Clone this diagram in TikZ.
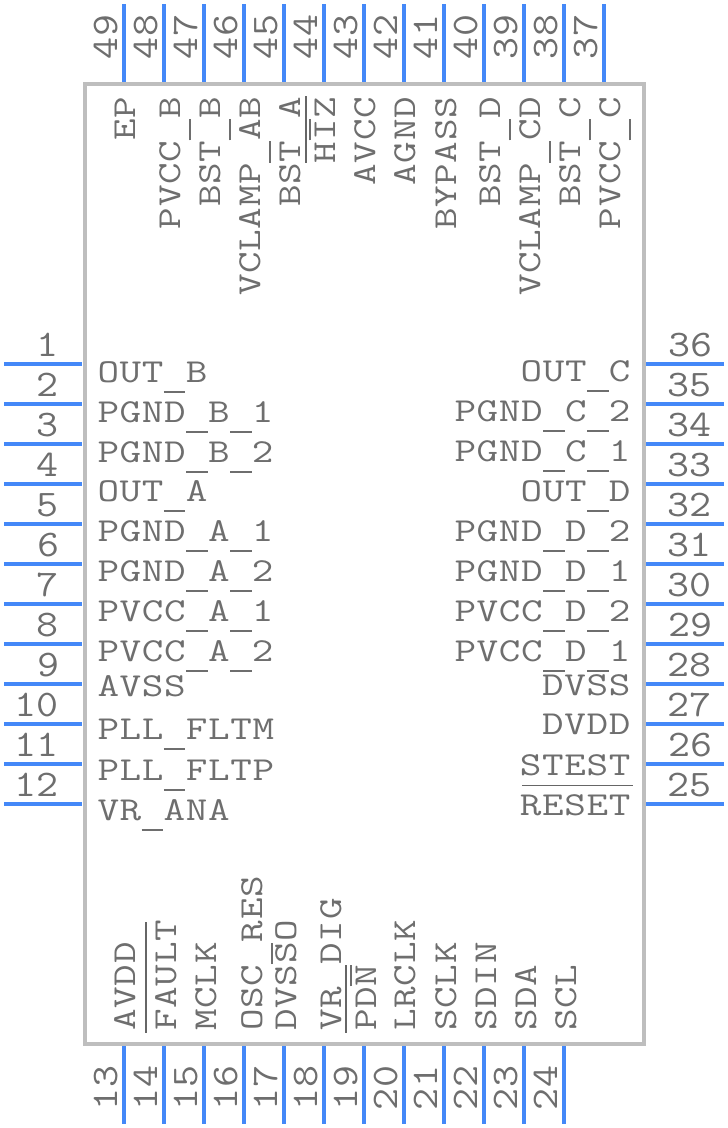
\documentclass[tikz,border=0pt]{standalone}
\usepackage{fontspec}
\newfontfamily\pinfont[FakeStretch=1.25,LetterSpace=2]{Latin Modern Mono}
\newfontfamily\numfont[FakeStretch=1.14]{Latin Modern Mono}
\newcommand\us{\hbox to 22.3pt{\hss\raisebox{-10.8pt}{\rule{21.5pt}{2.1pt}}\hss}}
\definecolor{pinblue}{HTML}{4488F8}
\definecolor{bodygray}{HTML}{BEBEBE}
\definecolor{textgray}{HTML}{6E6E6E}
\definecolor{bargray}{HTML}{666666}
\tikzset{
  x=1pt,y=-1pt,
  pinline/.style={draw=pinblue,line width=4pt},
  bodyline/.style={draw=bodygray,line width=4pt,fill=white},
  barline/.style={draw=bargray,line width=1.8pt},
  txt/.style={inner sep=0pt,outer sep=0pt,text=textgray,font=\pinfont\fontsize{33.5}{33.5}\selectfont},
  numtxt/.style={inner sep=0pt,outer sep=0pt,text=textgray,font=\numfont\fontsize{37.5}{37.5}\selectfont},
  lw/.style={txt,anchor=base west},
  le/.style={txt,anchor=base east},
  rw/.style={txt,anchor=base west,rotate=90},
  re/.style={txt,anchor=base east,rotate=90},
  ne/.style={numtxt,anchor=base east},
  nr/.style={numtxt,anchor=base west,rotate=90}
}
\begin{document}
\begin{tikzpicture}
\useasboundingbox (0,0) rectangle (728,1128);
\draw[bodyline] (84.5,84) rectangle (644,1044);
% side pins
\foreach \n/\y in {1/364,2/404,3/444,4/484,5/524,6/564,7/604,8/644,9/684,10/724,11/764,12/804}{
  \coordinate (la\n) at (4,\y); \coordinate (lb\n) at (82,\y);
  \draw[pinline] (la\n) -- (lb\n);
  \node[ne] (ln\n) at (59,\y-8) {\n};
}
\foreach \n/\y in {36/364,35/404,34/444,33/484,32/524,31/564,30/604,29/644,28/684,27/724,26/764,25/804}{
  \coordinate (la\n) at (646,\y); \coordinate (lb\n) at (724,\y);
  \draw[pinline] (la\n) -- (lb\n);
  \node[ne] (ln\n) at (712,\y-8) {\n};
}
% top pins
\foreach \n/\x in {49/124,48/164,47/204,46/244,45/284,44/324,43/364,42/404,41/444,40/484,39/524,38/564,37/604}{
  \coordinate (la\n) at (\x,4); \coordinate (lb\n) at (\x,82);
  \draw[pinline] (la\n) -- (lb\n);
  \node[nr] (ln\n) at (\x-7,59) {\n};
}
% bottom pins
\foreach \n/\x in {13/124,14/164,15/204,16/244,17/284,18/324,19/364,20/404,21/444,22/484,23/524,24/564}{
  \coordinate (la\n) at (\x,1046); \coordinate (lb\n) at (\x,1124);
  \draw[pinline] (la\n) -- (lb\n);
  \node[nr] (ln\n) at (\x-7,1110) {\n};
}
% left labels
\foreach \i/\t/\y in {a/OUT\us B/382,b/PGND\us B\us 1/422,c/PGND\us B\us 2/462,d/OUT\us A/501,e/PGND\us A\us 1/541,f/PGND\us A\us 2/581,g/PVCC\us A\us 1/621,h/PVCC\us A\us 2/661,i/AVSS/696,j/PLL\us FLTM/739,k/PLL\us FLTP/780,l/VR\us ANA/820}{
  \node[lw] (L\i) at (97.5,\y) {\t};
}
% right labels
\foreach \i/\t/\y in {a/OUT\us C/381,b/PGND\us C\us 2/421,c/PGND\us C\us 1/461,d/OUT\us D/501,e/PGND\us D\us 2/541,f/PGND\us D\us 1/581,g/PVCC\us D\us 2/621,h/PVCC\us D\us 1/661,i/DVSS/695,j/DVDD/734,k/STEST/775,l/RESET/815}{
  \node[le] (R\i) at (630.5,\y) {\t};
}
% top labels
\foreach \i/\t/\x in {a/EP/135,b/PVCC\us B/180,c/BST\us B/220,d/VCLAMP\us AB/260,e/BST\us A/300,f/HIZ/335,g/AVCC/375,h/AGND/415,i/BYPASS/456,j/BST\us D/500,k/VCLAMP\us CD/540,l/BST\us C/580,m/PVCC\us C/620}{
  \node[re] (T\i) at (\x,97) {\t};
}
% bottom labels
\foreach \i/\t/\x in {a/AVDD/135,b/FAULT/176,c/MCLK/216,d/OSC\us RES/262,e/DVSSO/296,f/VR\us DIG/341,g/PDN/376,h/LRCLK/415,i/SCLK/456,j/SDIN/496,k/SDA/536,l/SCL/576}{
  \node[rw] (B\i) at (\x,1030.5) {\t};
}
% overbars
\draw[barline] (522,785.5) -- (633,785.5);
\draw[barline] (146,922) -- (146,1033);
\draw[barline] (305.7,96) -- (305.7,163);
\draw[barline] (346,965) -- (346,1033);
\end{tikzpicture}
\end{document}
